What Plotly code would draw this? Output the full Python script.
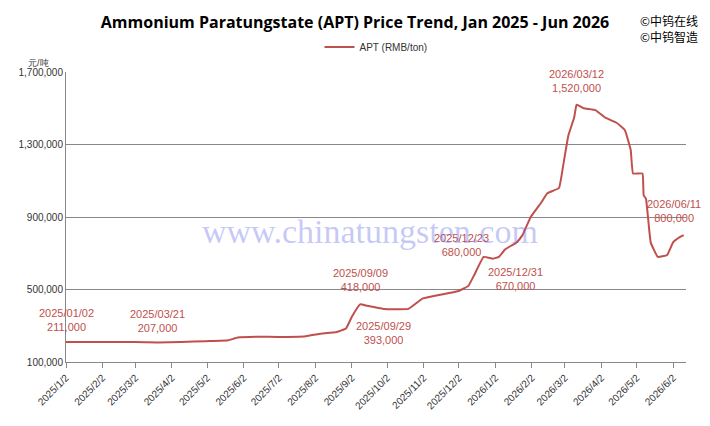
import plotly.graph_objects as go

dates = ["2025-01-02","2025-02-01","2025-03-01","2025-03-21","2025-04-10","2025-05-01","2025-05-20","2025-05-28",
"2025-06-15","2025-07-01","2025-07-25","2025-08-05","2025-08-20","2025-08-28","2025-09-02","2025-09-09","2025-09-15",
"2025-09-29","2025-10-20","2025-11-01","2025-11-15","2025-12-01","2025-12-10","2025-12-15","2025-12-23","2025-12-31",
"2026-01-05","2026-01-10","2026-01-20","2026-01-25","2026-02-01","2026-02-10","2026-02-15","2026-02-25","2026-03-01",
"2026-03-05","2026-03-10","2026-03-12","2026-03-18","2026-03-28","2026-04-05","2026-04-15","2026-04-22","2026-04-27",
"2026-04-29","2026-05-07","2026-05-08","2026-05-10","2026-05-14","2026-05-20","2026-05-28","2026-06-02","2026-06-08","2026-06-11"]
prices = [211000,211000,210000,207000,210000,215000,220000,235000,
240000,238000,242000,255000,265000,285000,350000,418000,410000,
393000,393000,450000,470000,490000,520000,580000,680000,670000,
680000,720000,760000,800000,900000,980000,1030000,1060000,1200000,
1350000,1450000,1520000,1500000,1490000,1450000,1420000,1380000,1270000,
1140000,1140000,1020000,1000000,760000,680000,690000,760000,790000,800000]

ann = [("2025-01-02",211000,"2025/01/02<br>211,000",0,22),("2025-03-21",207000,"2025/03/21<br>207,000",0,22),
       ("2025-09-09",418000,"2025/09/09<br>418,000",0,24),("2025-09-29",393000,"2025/09/29<br>393,000",0,-24),
       ("2025-12-23",680000,"2025/12/23<br>680,000",-22,12),("2025-12-31",670000,"2025/12/31<br>670,000",22,-20),
       ("2026-03-12",1520000,"2026/03/12<br>1,520,000",0,24),("2026-06-11",800000,"2026/06/11<br>800,000",-10,24)]
tickvals = ["2025-%02d-02"%m for m in range(1,13)]+["2026-%02d-02"%m for m in range(1,7)]
ticktext = [d[:4]+"/"+str(int(d[5:7]))+"/2" for d in tickvals]

red = "#C0504D"
fig = go.Figure(go.Scatter(x=dates, y=prices, mode="lines", line=dict(color=red, width=2, shape="spline", smoothing=0.3),
                           name="APT (RMB/ton)"))
for d,v,t,ax,ay in ann:
    fig.add_annotation(x=d,y=v,text=t,showarrow=False,xshift=ax,yshift=ay,font=dict(color=red,size=11,family="Liberation Sans"))
fig.add_annotation(xref="paper",yref="paper",x=-0.045,y=1.0,yshift=16,xanchor="center",text="元/吨",showarrow=False,font=dict(size=9,color="#333"))
fig.add_annotation(xref="paper",yref="paper",x=1.022,y=1.215,xanchor="right",yanchor="top",align="left",text="©中钨在线<br>©中钨智造",
                   showarrow=False,font=dict(size=12,color="#000",family="Noto Sans CJK SC"))
fig.add_annotation(xref="paper",yref="paper",x=0.49,y=0.45,text="www.chinatungsten.com",showarrow=False,
                   font=dict(size=34,color="rgba(90,100,230,0.35)",family="Liberation Serif"))
fig.update_layout(width=694,height=410,margin=dict(l=58,r=16,t=64,b=56,autoexpand=False),plot_bgcolor="white",paper_bgcolor="white",
    title=dict(text="<b>Ammonium Paratungstate (APT) Price Trend, Jan 2025 - Jun 2026</b>",x=0.5,xanchor="center",y=0.966,yanchor="middle",
               font=dict(size=16,family="Open Sans",color="#000")),
    showlegend=True,legend=dict(orientation="h",x=0.5,xanchor="center",y=1.086,yanchor="middle",font=dict(size=10,color="#333")),
    font=dict(family="Liberation Sans"))
fig.update_xaxes(range=["2025-01-02","2026-06-13"],tickvals=tickvals,ticktext=ticktext,tickangle=-45,showgrid=False,
    showline=True,linecolor="#888",ticks="outside",tickcolor="#888",tickfont=dict(size=10,color="#333"))
fig.update_yaxes(range=[100000,1700000],tickvals=[100000,500000,900000,1300000,1700000],tickformat=",",
    showgrid=True,gridcolor="#888",showline=True,linecolor="#888",tickfont=dict(size=10,color="#333"),zeroline=False)
fig.write_html("out.html")
